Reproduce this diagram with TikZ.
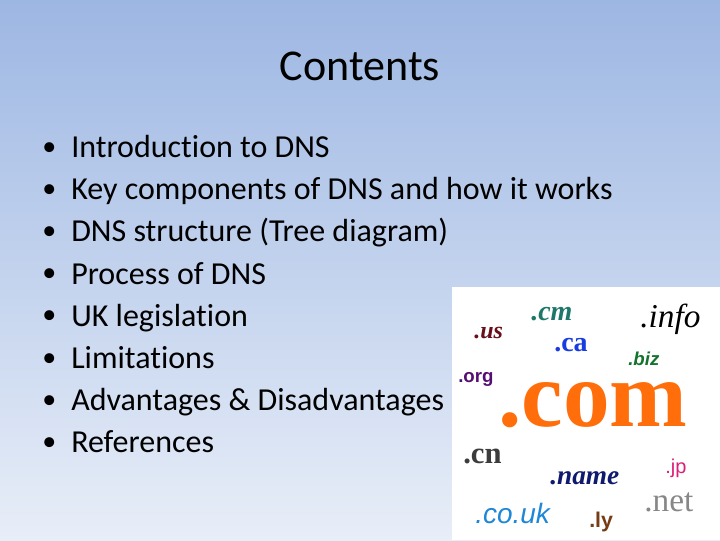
\documentclass[tikz,border=0pt]{standalone}
\usepackage{fontspec}
\setmainfont[Ligatures=NoCommon,RawFeature={-liga;-clig}]{Carlito}
\newfontfamily\serifface{Liberation Serif}
\newfontfamily\sansface{Liberation Sans}
\usetikzlibrary{positioning}

\definecolor{slidetop}{RGB}{157,183,227}
\definecolor{slidebottom}{RGB}{232,238,248}

\tikzset{
    item/.style={anchor=base west, inner sep=0pt, font=\fontsize{24}{24}\selectfont},
    dot/.style={anchor=base west, inner sep=0pt, font=\fontsize{21}{21}\selectfont},
    tld/.style={anchor=base west, inner sep=0pt}
}

\begin{document}
\begin{tikzpicture}[x=0.75pt, y=-0.75pt]
% Background of the slide
\shade[top color=slidetop, bottom color=slidebottom] (0,0) rectangle (720,540);
\useasboundingbox (0,0) rectangle (720,540);

% Title
\node[anchor=base, inner sep=0pt, font=\fontsize{33}{33}\selectfont] (title) at (360,80.5) {Contents};

% Draw the bullets and the lines of the list
\foreach \row/\txt in {0/Introduction to DNS, 1/Key components of DNS and how it works,
    2/DNS structure (Tree diagram), 3/Process of DNS, 4/UK legislation, 5/Limitations,
    6/Advantages \& Disadvantages, 7/References} {
    \node[dot] (bullet\row) at (42, 155 + \row * 42.2) {•};
    \node[item] (line\row) at (71, 157.5 + \row * 42.2) {\txt};
}

% The picture of domain endings
\fill[white] (452,287) rectangle (720,540);

\node[tld, text={rgb,255:red,255;green,110;blue,10}, font=\fontsize{70}{70}\serifface\bfseries] (com) at (498,426) {.com};
\node[tld, text={rgb,255:red,30;green,120;blue,105}, font=\fontsize{21}{21}\serifface\bfseries\itshape] (cm) at (531,320) {.cm};
\node[tld, text={rgb,255:red,105;green,15;blue,25}, font=\fontsize{18}{18}\serifface\bfseries\itshape] (us) at (474,338) {.us};
\node[tld, text={rgb,255:red,25;green,60;blue,225}, font=\fontsize{21}{21}\serifface\bfseries] (ca) at (554,351) {.ca};
\node[tld, text=black, font=\fontsize{25}{25}\serifface\itshape] (info) at (640,327) {.info};
\node[tld, text={rgb,255:red,20;green,115;blue,45}, font=\fontsize{14}{14}\sansface\bfseries\itshape] (biz) at (628,365) {.biz};
\node[tld, text={rgb,255:red,85;green,15;blue,115}, font=\fontsize{14}{14}\sansface\bfseries] (org) at (458,382) {.org};
\node[tld, text={rgb,255:red,60;green,60;blue,60}, font=\fontsize{23}{23}\serifface\bfseries] (cn) at (463,463) {.cn};
\node[tld, text={rgb,255:red,220;green,30;blue,120}, font=\fontsize{15}{15}\sansface] (jp) at (665,473) {.jp};
\node[tld, text={rgb,255:red,15;green,25;blue,110}, font=\fontsize{20.5}{21}\serifface\bfseries\itshape] (name) at (550,484) {.name};
\node[tld, text={rgb,255:red,135;green,135;blue,135}, font=\fontsize{25}{25}\serifface] (net) at (644,511) {.net};
\node[tld, text={rgb,255:red,30;green,135;blue,215}, font=\fontsize{21}{21}\sansface\itshape] (couk) at (475,523) {.co.uk};
\node[tld, text={rgb,255:red,120;green,60;blue,20}, font=\fontsize{16}{16}\sansface\bfseries] (ly) at (589,527) {.ly};
\end{tikzpicture}
\end{document}
